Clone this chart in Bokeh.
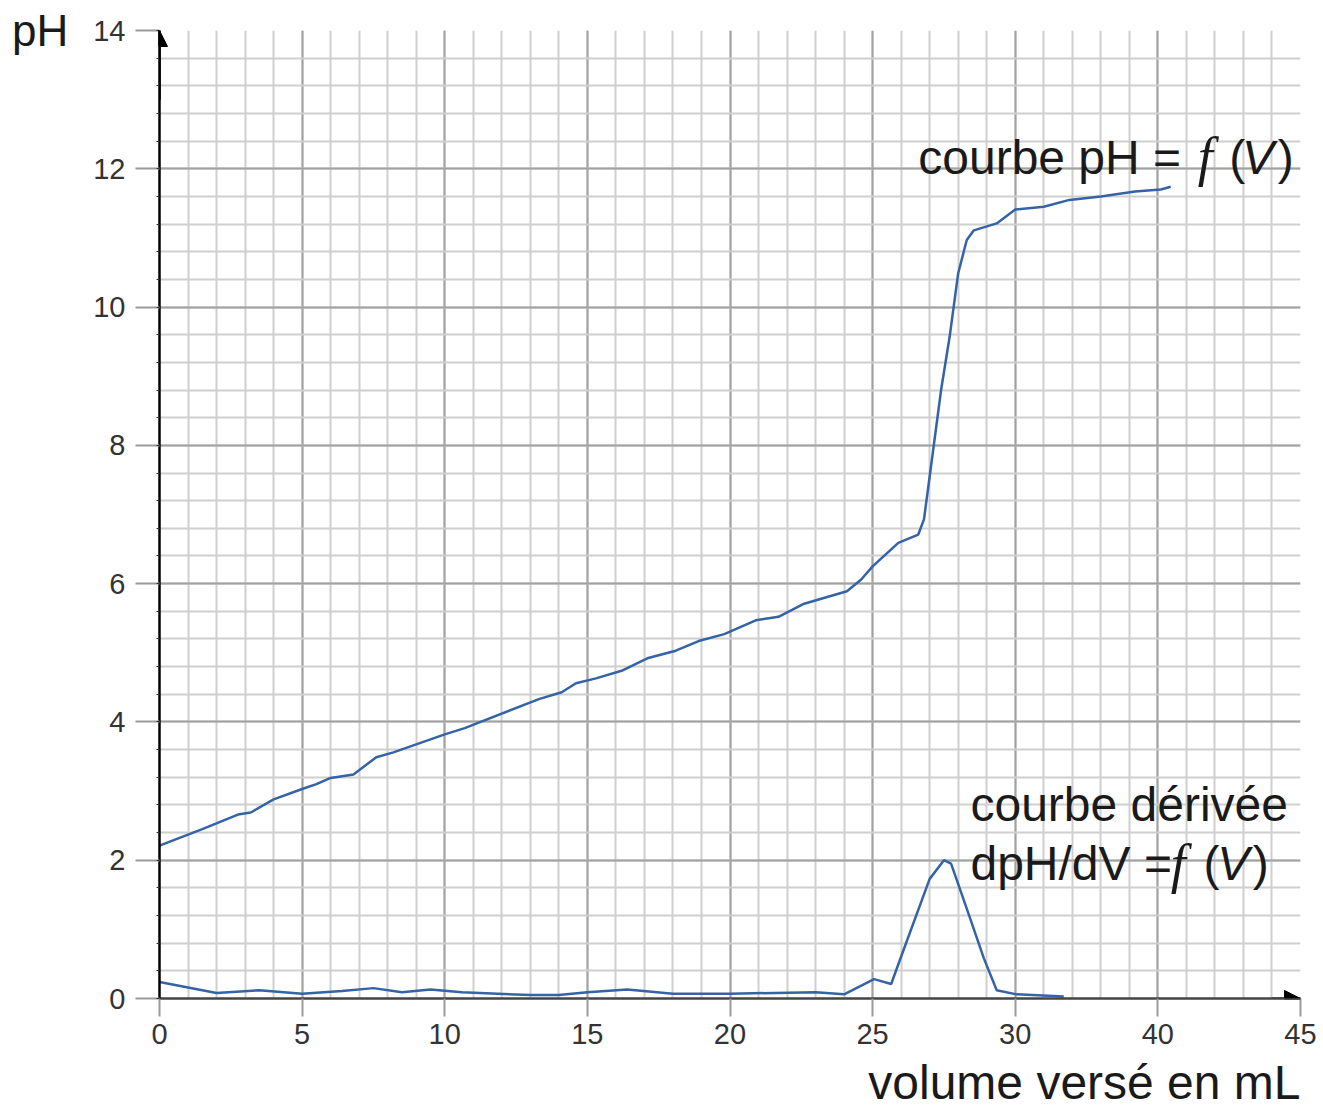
from bokeh.plotting import figure
from bokeh.models import FixedTicker, Label, Arrow, NormalHead, Range1d, Title
from bokeh.embed import file_html
from bokeh.resources import INLINE

# ---- data ----
V_ph = [0, 1.5, 2.75, 3.2, 4.0, 5.0, 5.5, 6.0, 6.8, 7.6, 8.2, 10.0, 10.7, 13.3, 14.1,
        14.6, 15.3, 16.2, 17.1, 18.1, 18.9, 19.8, 20.9, 21.7, 22.6, 24.1, 24.6, 25.0,
        25.9, 26.6, 26.8, 27.0, 27.4, 27.7, 28.0, 28.3, 28.55, 29.35, 30.0, 31.0, 31.9,
        33.0, 34.2, 35.1, 35.45]
pH = [2.21, 2.45, 2.66, 2.69, 2.88, 3.03, 3.10, 3.19, 3.24, 3.49, 3.56, 3.82, 3.91, 4.33,
      4.43, 4.56, 4.63, 4.74, 4.92, 5.03, 5.17, 5.27, 5.47, 5.52, 5.71, 5.89, 6.06, 6.25,
      6.59, 6.71, 6.93, 7.55, 8.80, 9.57, 10.49, 10.97, 11.11, 11.21, 11.41, 11.45, 11.55,
      11.60, 11.67, 11.70, 11.74]

V_d = [0, 2.0, 3.5, 5.0, 6.4, 7.5, 8.5, 9.5, 10.6, 13.0, 14.0, 15.0, 16.4, 18.0, 20.0,
       23.0, 24.0, 25.05, 25.65, 26.1, 27.0, 27.5, 27.75, 28.3, 28.9, 29.35, 30.05, 31.7]
dpH = [0.24, 0.08, 0.12, 0.07, 0.11, 0.15, 0.09, 0.13, 0.09, 0.05, 0.05, 0.09, 0.13, 0.07,
       0.07, 0.09, 0.06, 0.28, 0.21, 0.72, 1.73, 2.0, 1.95, 1.30, 0.58, 0.12, 0.06, 0.03]

x_tick_values = [0, 5, 10, 15, 20, 25, 30, 35, 40]
x_tick_labels = ["0", "5", "10", "15", "20", "25", "30", "40", "45"]
y_tick_values = [0, 2, 4, 6, 8, 10, 12, 14]
x_minor_values = list(range(0, 41))
y_minor_values = [round(0.4 * i, 1) for i in range(36)]

LINE = "#3463a6"
FONT = "Liberation Sans"

p = figure(width=1323, height=1115, x_range=Range1d(0, 40), y_range=Range1d(0, 14),
           output_backend="svg", toolbar_location=None,
           min_border_left=159, min_border_right=23, min_border_top=30, min_border_bottom=115)
p.outline_line_color = None
p.background_fill_color = "white"
p.border_fill_color = "white"

p.xaxis.ticker = FixedTicker(ticks=x_tick_values, minor_ticks=x_minor_values)
p.yaxis.ticker = FixedTicker(ticks=y_tick_values, minor_ticks=y_minor_values)
p.xgrid.ticker = p.xaxis.ticker
p.ygrid.ticker = p.yaxis.ticker
p.xaxis.major_label_overrides = {v: s for v, s in zip(x_tick_values, x_tick_labels)}

for g in (p.xgrid, p.ygrid):
    g.grid_line_color = "#a2a2a2"
    g.grid_line_width = 2
    g.minor_grid_line_color = "#cfcfcf"
    g.minor_grid_line_width = 2

for ax in (p.xaxis, p.yaxis):
    ax.major_label_text_font = FONT
    ax.major_label_text_font_size = "29px"
    ax.major_label_text_color = "#333333"
    ax.major_tick_in = 0
    ax.major_tick_line_color = "#9a9a9a"
    ax.major_tick_line_width = 2
    ax.minor_tick_in = 0
    ax.axis_label_text_font = FONT
    ax.axis_label_text_font_style = "normal"
    ax.axis_label_text_color = "#1a1a1a"

p.xaxis.axis_line_color = "#444444"
p.xaxis.axis_line_width = 2.5
p.xaxis.major_tick_out = 18
p.xaxis.minor_tick_out = 0
p.xaxis.major_label_standoff = 7

p.yaxis.axis_line_color = "black"
p.yaxis.axis_line_width = 2.5
p.yaxis.major_tick_out = 24
p.yaxis.minor_tick_out = 3
p.yaxis.minor_tick_line_color = "#333333"
p.yaxis.major_label_standoff = 10
p.yaxis.axis_label = "pH"
p.yaxis.axis_label_text_font_size = "44px"
p.yaxis.axis_label_orientation = "horizontal"
p.yaxis.axis_label_standoff = 22
p.yaxis.axis_label_align = "end"

# x-axis title, right-aligned under the axis
p.add_layout(Title(text="volume versé en mL", align="right", text_font=FONT,
                   text_font_size="48px", text_font_style="normal",
                   text_color="#1a1a1a", standoff=14), "below")

p.line(V_ph, pH, line_color=LINE, line_width=2.5)
p.line(V_d, dpH, line_color=LINE, line_width=2.5)

# axis arrows
p.add_layout(Arrow(end=NormalHead(size=16, fill_color="black", line_color="black"),
                   x_start=0, y_start=13.0, x_end=0, y_end=14.0,
                   line_color="black", line_width=2.5))
p.add_layout(Arrow(end=NormalHead(size=16, fill_color="black", line_color="black"),
                   x_start=39, y_start=0, x_end=40, y_end=0,
                   line_color="#444444", line_width=2.5))

def lab(x, y, text, font=FONT, size="48px", style="normal", align="left"):
    p.add_layout(Label(x=x, y=y, text=text, text_font=font, text_font_size=size,
                       text_font_style=style, text_color="#1a1a1a",
                       text_baseline="alphabetic", text_align=align))

# curve annotations
lab(26.6, 12.17, "courbe pH = ")
lab(36.4, 12.17, "f", font="Liberation Serif", style="italic", size="54px")
lab(37.5, 12.17, "(")
lab(37.95, 12.17, "V", style="italic")
lab(39.2, 12.17, ")")

lab(28.43, 1.95, "dpH/dV =")
lab(28.43, 2.81, "courbe dérivée")
lab(35.45, 1.95, "f", font="Liberation Serif", style="italic", size="54px")
lab(36.6, 1.95, "(")
lab(37.08, 1.95, "V", style="italic")
lab(38.33, 1.95, ")")

open("out.html", "w").write(file_html(p, INLINE))
